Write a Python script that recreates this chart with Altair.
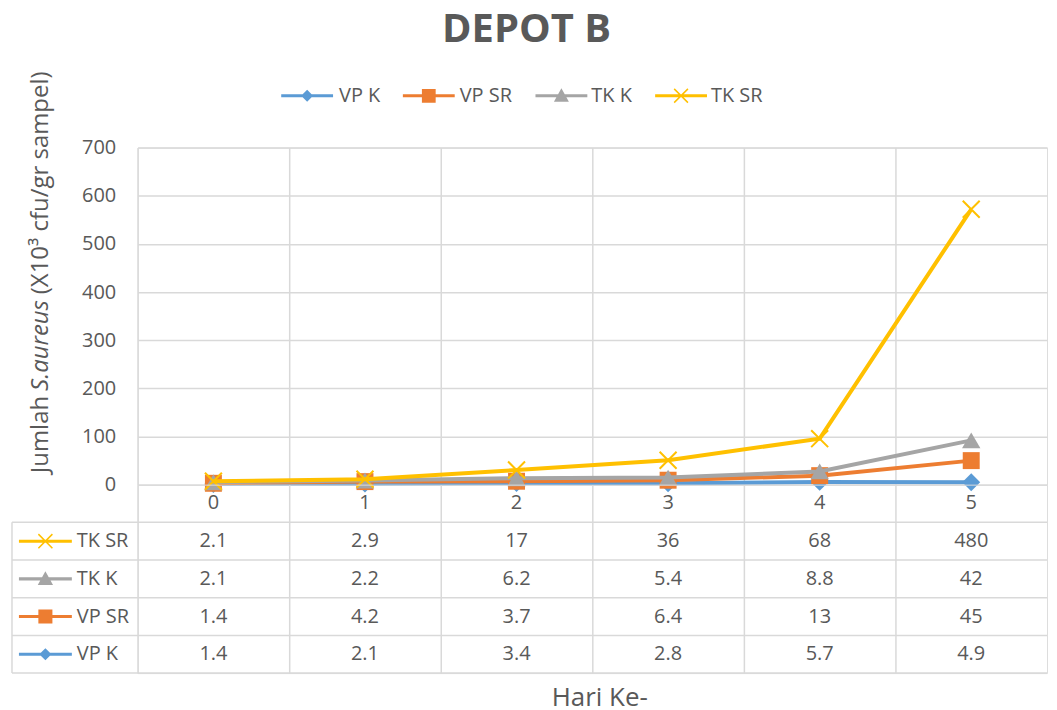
import altair as alt
import pandas as pd

# ---------------- data ----------------
days = ["0", "1", "2", "3", "4", "5"]
series = ["VP K", "VP SR", "TK K", "TK SR"]
vp_k = [1.4, 2.1, 3.4, 2.8, 5.7, 4.9]
vp_sr = [1.4, 4.2, 3.7, 6.4, 13, 45]
tk_k = [2.1, 2.2, 6.2, 5.4, 8.8, 42]
tk_sr = [2.1, 2.9, 17, 36, 68, 480]
table_rows = ["TK SR", "TK K", "VP SR", "VP K"]
y_ticks = [0, 100, 200, 300, 400, 500, 600, 700]
colors = ["#5B9BD5", "#ED7D31", "#A5A5A5", "#FFC000"]
title_text = "DEPOT B"
x_title = "Hari Ke-"
y_title_parts = ["Jumlah", "S.aureus", "(X10³ cfu/gr sampel)"]

values = {"VP K": vp_k, "VP SR": vp_sr, "TK K": tk_k, "TK SR": tk_sr}
recs = []
for i, s in enumerate(series):
    for d, v in zip(days, values[s]):
        recs.append({"series": s, "order": i, "day": d, "value": v,
                     "label": f"{v:g}", "row": s})
df = pd.DataFrame(recs)

# ---------------- style ----------------
FONT = "Open Sans"
TXT = "#595959"
GRID = "#D9D9D9"
GW = 1.5
W, H, TH = 912, 338, 189


def rect(L=4.333, t=0.25):
    return f"M{-L},{-t}L{L},{-t}L{L},{t}L{-L},{t}Z"


def xglyph(s=1.15, d=0.0884):
    p = (f"M{-s+d},{-s-d}L{s+d},{s-d}L{s-d},{s+d}L{-s-d},{-s+d}Z")
    q = (f"M{-s+d},{s+d}L{-s-d},{s-d}L{s-d},{-s-d}L{s+d},{-s+d}Z")
    return p + q


glyphs = [
    rect() + "M0,-1L1,0L0,1L-1,0Z",
    rect() + "M-1.15,-1.15L1.15,-1.15L1.15,1.15L-1.15,1.15Z",
    rect() + "M0,-1.25L1.25,1.0L-1.25,1.0Z",
    rect() + xglyph(),
]

markers = {
    "VP K": dict(shape="diamond", size=324, filled=True, opacity=1),
    "VP SR": dict(shape="square", size=289, filled=True, opacity=1),
    "TK K": dict(shape="triangle-up", size=340, filled=True, opacity=1),
    "TK SR": dict(shape="M-1,-1L1,1M-1,1L1,-1", size=289, filled=False,
                  strokeWidth=2, opacity=1),
}

xscale = alt.Scale(type="band", domain=days, paddingInner=0, paddingOuter=0)
color_scale = alt.Scale(domain=series, range=colors)
shape_scale = alt.Scale(domain=series, range=glyphs)

X = alt.X("day:N", scale=xscale, sort=days,
          axis=alt.Axis(grid=True, bandPosition=0, gridColor=GRID, gridWidth=GW,
                        labels=False, ticks=False, domain=False, title=None))
Y = alt.Y("y1:Q", scale=alt.Scale(domain=[0, 700], nice=False),
          axis=alt.Axis(values=y_ticks, grid=True, gridColor=GRID, gridWidth=GW,
                        ticks=False, tickSize=0, domain=False, labelPadding=22,
                        labelFont=FONT, labelFontSize=20, labelColor=TXT,
                        title=None))
C = alt.Color("series:N", scale=color_scale, legend=None)


def stacked():
    return alt.Chart(df).transform_stack(
        stack="value", groupby=["day"], as_=["y0", "y1"],
        sort=[alt.SortField("order", order="ascending")])


top_layers = []
for s in series:
    b = stacked().transform_filter(alt.datum.series == s)
    top_layers.append(b.mark_line(strokeWidth=4).encode(x=X, y=Y, color=C))
    top_layers.append(b.mark_point(**markers[s]).encode(x=X, y=Y, color=C))

# legend (line + marker glyph and label per series), placed above the plot
leg_glyph_x = [170, 292, 425, 545]
leg_label_x = [202, 323, 455, 575]
LEG_Y = -52
for i, s in enumerate(series):
    ldf = pd.DataFrame({"series": [s]})
    top_layers.append(
        alt.Chart(ldf).mark_point(filled=True, size=144, shape=glyphs[i],
                                  opacity=1, strokeWidth=0).encode(
            x=alt.value(leg_glyph_x[i]), y=alt.value(LEG_Y),
            fill=alt.Fill("series:N", scale=color_scale, legend=None))
    )
    top_layers.append(
        alt.Chart(ldf).mark_text(font=FONT, fontSize=20, color=TXT, align="left",
                                 baseline="middle").encode(
            x=alt.value(leg_label_x[i]), y=alt.value(LEG_Y), text="series:N")
    )

# y-axis title pieces (rotated)
yt_pos = [(249, "right", "normal"), (244, "left", "italic"), (147, "left", "normal")]
for part, (ypos, al, st) in zip(y_title_parts, yt_pos):
    top_layers.append(
        alt.Chart(pd.DataFrame({"t": [part]})).mark_text(
            angle=270, align=al, baseline="middle", fontSize=24, font=FONT,
            color=TXT, fontStyle=st
        ).encode(x=alt.value(-97), y=alt.value(ypos), text="t:N")
    )

top = alt.layer(*top_layers).properties(width=W, height=H)

# ---------------- data table ----------------
ydom = ["_hdr"] + table_rows
yscale_t = alt.Scale(type="band", domain=ydom, paddingInner=0, paddingOuter=0)
XT = alt.X("day:N", scale=xscale, sort=days,
           axis=alt.Axis(grid=True, bandPosition=0, gridColor=GRID, gridWidth=GW,
                         labels=False, ticks=False, domain=False, title=x_title,
                         titleFont=FONT, titleFontSize=26, titleColor=TXT,
                         titleFontWeight="normal", titlePadding=11,
                         titleX=463, titleAlign="center"))

cells = alt.Chart(df).mark_text(font=FONT, fontSize=20, color=TXT).encode(
    x=XT, y=alt.Y("row:N", scale=yscale_t, axis=None), text="label:N")

hdr = alt.Chart(pd.DataFrame({"day": days})).mark_text(
    font=FONT, fontSize=20, color=TXT).encode(
    x=XT, y=alt.Y(datum="_hdr", scale=yscale_t, axis=None), text="day:N")

rows_df = pd.DataFrame({"row": table_rows, "series": table_rows})
hrules = alt.Chart(rows_df).mark_rule(color=GRID, strokeWidth=GW).encode(
    x=alt.value(-126), x2=alt.value(W),
    y=alt.Y("row:N", scale=yscale_t, axis=None, bandPosition=0))
hbottom = alt.Chart(pd.DataFrame({"k": [0]})).mark_rule(
    color=GRID, strokeWidth=GW).encode(
    x=alt.value(-126), x2=alt.value(W),
    y=alt.Y(datum="VP K", scale=yscale_t, axis=None, bandPosition=1))
vleft = alt.Chart(pd.DataFrame({"k": [0]})).mark_rule(
    color=GRID, strokeWidth=GW).encode(
    x=alt.value(-126),
    y=alt.Y(datum="TK SR", scale=yscale_t, axis=None, bandPosition=0),
    y2=alt.Y2(datum="VP K", bandPosition=1))

row_labels = alt.Chart(rows_df).mark_text(
    font=FONT, fontSize=20, color=TXT, align="left").encode(
    x=alt.value(-61), y=alt.Y("row:N", scale=yscale_t, axis=None), text="row:N")

row_glyphs = alt.Chart(rows_df).mark_point(filled=True, size=150, opacity=1,
                                           strokeWidth=0).encode(
    x=alt.value(-92.5), y=alt.Y("row:N", scale=yscale_t, axis=None),
    shape=alt.Shape("series:N", scale=shape_scale, legend=None),
    fill=alt.Fill("series:N", scale=color_scale, legend=None))

table = alt.layer(cells, hdr, hrules, hbottom, vleft, row_labels, row_glyphs
                  ).properties(width=W, height=TH)

chart = alt.vconcat(top, table, spacing=0, bounds="flush").resolve_scale(
    color="independent", fill="independent", shape="independent"
).properties(
    title=alt.TitleParams(title_text, anchor="middle", font=FONT, fontSize=40,
                          fontWeight="bold", color=TXT, offset=21, dx=-3),
    padding={"left": 2, "top": 1, "right": 0, "bottom": 2},
).configure_view(stroke=None).configure(font=FONT)

chart.save("out.html", embed_options={"renderer": "svg", "actions": False})
